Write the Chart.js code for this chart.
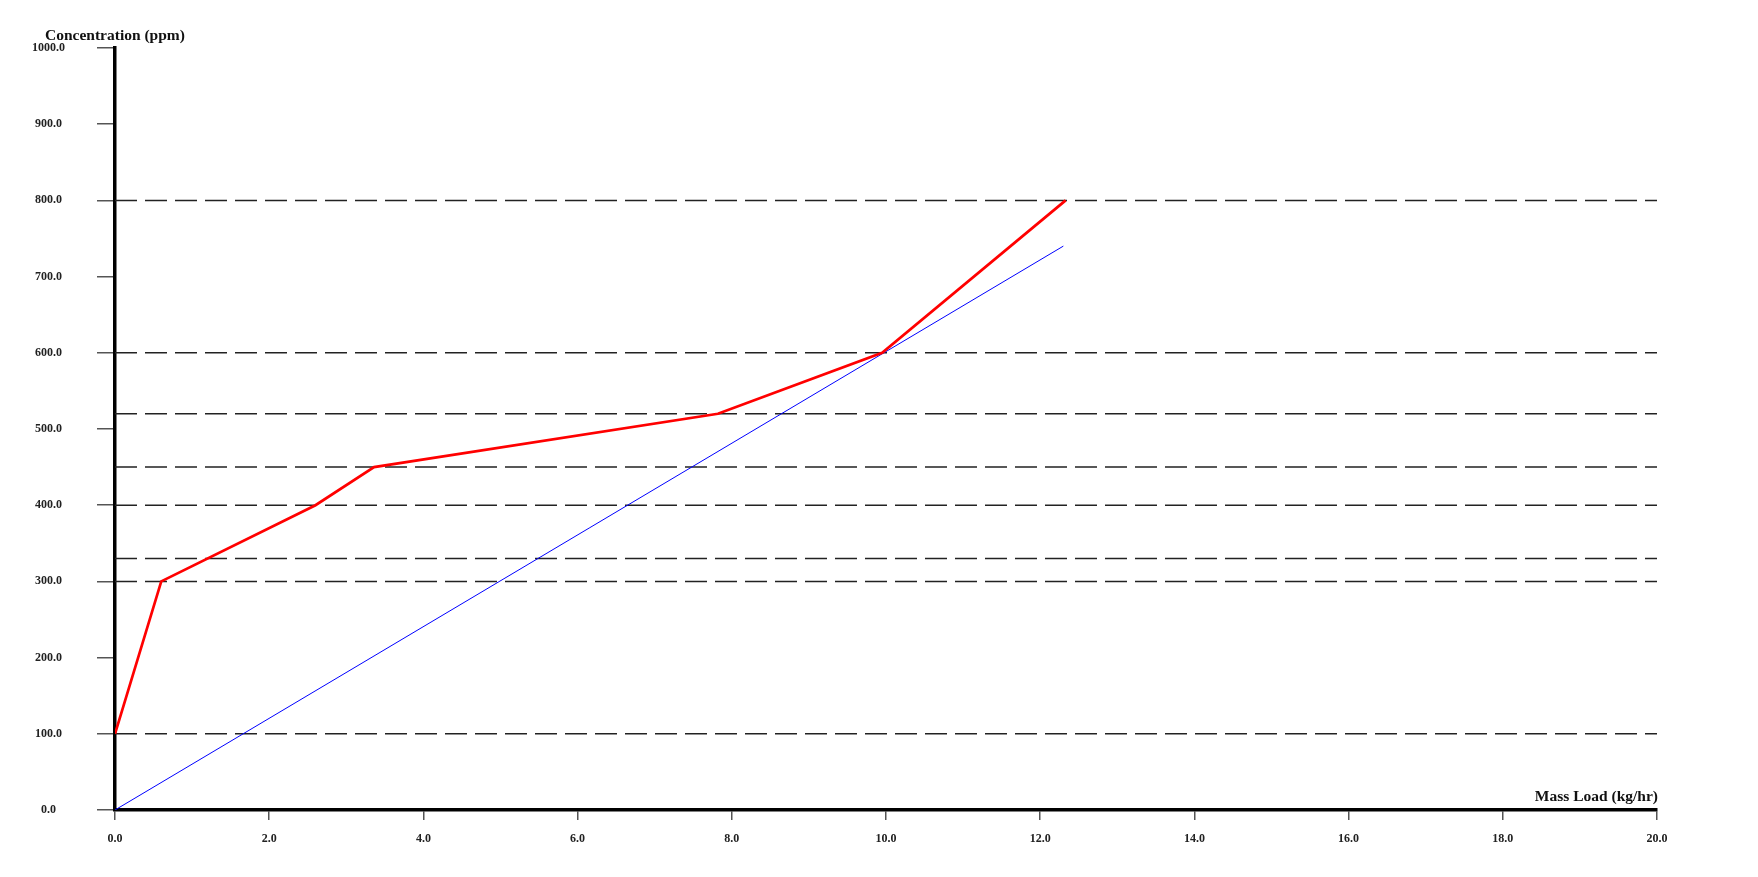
<!DOCTYPE html>
<html>
<head>
<meta charset="utf-8">
<script src="https://cdn.jsdelivr.net/npm/chart.js@4"></script>
<style>
  html, body { margin: 0; padding: 0; background: #fff; }
  #wrap { width: 1758px; height: 877px; }
</style>
</head>
<body>
<div id="wrap"><canvas id="chart-1"></canvas></div>
<script>
// composite curve (red) and supply line (blue)
var massLoad = [0, 0.6, 2.6, 3.36, 7.82, 9.95, 12.33];
var concentration = [100, 300, 400, 450, 520, 600, 800];
var lineX = [0, 12.3];
var lineY = [0, 740];
// horizontal dashed levels
var levels = [100, 300, 330, 400, 450, 520, 600, 800];
var xRange = [0, 20];
var yRange = [0, 1000];

var xTitle = 'Mass Load (kg/hr)';
var yTitle = 'Concentration (ppm)';

function pts(xs, ys) {
    return xs.map(function (x, i) { return { x: x, y: ys[i] }; });
}

var datasets = [{
    data: pts(massLoad, concentration),
    borderColor: '#ff0000',
    borderWidth: 2.7,
    pointRadius: 0
}, {
    data: pts(lineX, lineY),
    borderColor: '#0000ff',
    borderWidth: 1,
    pointRadius: 0
}];

levels.forEach(function (v) {
    datasets.push({
        data: pts(xRange, [v, v]),
        borderColor: '#222222',
        borderWidth: 1.5,
        borderDash: [22, 8],
        pointRadius: 0
    });
});

var axisTitles = {
    id: 'axisTitles',
    afterDraw: function (chart) {
        var ctx = chart.ctx;
        var a = chart.chartArea;
        ctx.save();
        ctx.font = 'bold 15.5px "Liberation Serif", serif';
        ctx.fillStyle = '#111';
        ctx.textBaseline = 'middle';
        ctx.textAlign = 'left';
        ctx.fillText(yTitle, 45, 36);
        ctx.textAlign = 'right';
        ctx.fillText(xTitle, a.right + 1, a.bottom - 13);
        ctx.restore();
    }
};

var tickFont = { family: '"Liberation Serif", serif', size: 12, weight: 'bold' };

var myChart = new Chart(document.getElementById('chart-1').getContext('2d'), {
    type: 'scatter',
    data: { datasets: datasets },
    options: {
        responsive: true,
        maintainAspectRatio: false,
        animation: false,
        showLine: true,
        layout: {
            padding: { left: 0, top: 48, right: 101, bottom: 0 }
        },
        plugins: {
            legend: { display: false },
            tooltip: { enabled: false }
        },
        scales: {
            x: {
                min: xRange[0],
                max: xRange[1],
                ticks: {
                    stepSize: 2,
                    font: tickFont,
                    color: '#222',
                    padding: 12,
                    maxRotation: 0,
                    callback: function (v) { return v.toFixed(1); }
                },
                grid: {
                    drawOnChartArea: false,
                    tickLength: 10,
                    color: '#555',
                    lineWidth: 1.5
                },
                border: { color: '#000', width: 3.5 },
                afterFit: function (s) { s.height = 67; }
            },
            y: {
                min: yRange[0],
                max: yRange[1],
                ticks: {
                    stepSize: 100,
                    font: tickFont,
                    color: '#222',
                    padding: 32,
                    crossAlign: 'center',
                    callback: function (v) { return v.toFixed(1); }
                },
                grid: {
                    drawOnChartArea: false,
                    tickLength: 18,
                    color: '#555',
                    lineWidth: 1.5
                },
                border: { color: '#000', width: 3.5 },
                afterFit: function (s) { s.width = 115; }
            }
        }
    },
    plugins: [axisTitles]
});
</script>
</body>
</html>
